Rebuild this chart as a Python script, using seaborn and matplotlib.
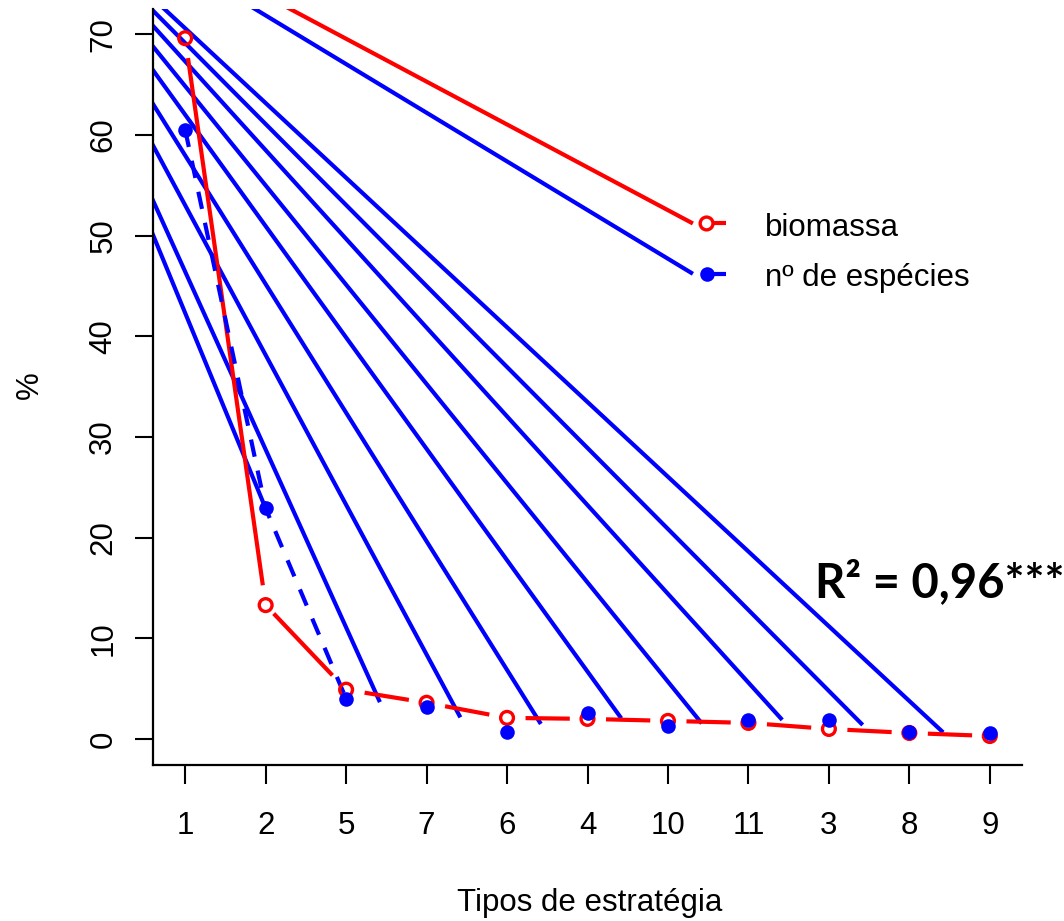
import matplotlib
matplotlib.use("Agg")
import matplotlib.pyplot as plt
import seaborn as sns

# Dados
estrategias = ["1", "2", "5", "7", "6", "4", "10", "11", "3", "8", "9"]
biomassa = [69.6, 13.3, 4.9, 3.6, 2.1, 2.0, 1.8, 1.6, 1.0, 0.6, 0.3]
especies = [60.5, 22.9, 4.0, 3.2, 0.7, 2.6, 1.3, 1.9, 1.9, 0.7, 0.6]
yticks = [0, 10, 20, 30, 40, 50, 60, 70]
legenda = ["biomassa", "nº de espécies"]
r2_texto = "R² = 0,96***"

VERMELHO = "#ff0000"
AZUL = "#0000ff"
LW = 3.0

sns.set_style("white")
plt.rcParams["font.family"] = ["Liberation Sans", "DejaVu Sans"]
plt.rcParams["text.color"] = "black"
plt.rcParams["axes.labelcolor"] = "black"
plt.rcParams["xtick.color"] = "black"
plt.rcParams["ytick.color"] = "black"

pos = list(range(len(estrategias)))

fig = plt.figure(figsize=(10.64, 9.21), dpi=100)
ax = fig.add_axes([153 / 1064, (921 - 765) / 921, (1022 - 153) / 1064, (765 - 9) / 921])
ax.set_xlim(-0.4, 10.4)
ax.set_ylim(-2.58, 72.5)


def trecho(x, y, k, f0, f1):
    xs = [x[k] + (x[k + 1] - x[k]) * f0, x[k] + (x[k + 1] - x[k]) * f1]
    ys = [y[k] + (y[k + 1] - y[k]) * f0, y[k] + (y[k + 1] - y[k]) * f1]
    return xs, ys


# ponto de fuga das linhas "fantasma" (defeito da exportação original)
ox, oy = -2.36, 88.1
fins_x = [pos[1]]
fins_y = [especies[1]]
for k in range(2, 10):
    xs, ys = trecho(pos, especies, k, 0, 0.42)
    fins_x.append(xs[1])
    fins_y.append(ys[1])

# legenda (posição em coordenadas de dados)
leg_x = 6.48
leg_y = [51.2, 46.2]
leg_cor = [VERMELHO, AZUL]
for ly, cor in zip(leg_y, leg_cor):
    fins_x.append(leg_x - 0.17)
    fins_y.append(ly)

cores_fantasma = [AZUL] * 9 + leg_cor
for ex, ey, cor in zip(fins_x, fins_y, cores_fantasma):
    ax.plot([ox, ex], [oy, ey], color=cor, lw=LW, solid_capstyle="butt")

# biomassa: linha vermelha
for k in range(len(pos) - 1):
    if k == 0:
        f0, f1 = 0.035, 0.965
    elif k == 1:
        f0, f1 = 0.10, 0.83
    else:
        f0, f1 = 0.23, 0.78
    xs, ys = trecho(pos, biomassa, k, f0, f1)
    ax.plot(xs, ys, color=VERMELHO, lw=LW, solid_capstyle="butt")

# nº de espécies: linha azul tracejada
ax.plot(pos[:3], especies[:3], color=AZUL, lw=LW, dashes=(4.2, 3.4))

sns.scatterplot(x=pos, y=biomassa, ax=ax, marker="o", s=85,
                facecolors="none", edgecolor=VERMELHO, linewidth=2.4, zorder=5)
sns.scatterplot(x=pos, y=especies, ax=ax, marker="o", s=110,
                color=AZUL, edgecolor=AZUL, linewidth=0, zorder=6)

# itens da legenda
ax.scatter([leg_x], [leg_y[0]], s=85, facecolors="none", edgecolors=VERMELHO,
           linewidths=2.4, zorder=5)
ax.scatter([leg_x], [leg_y[1]], s=110, color=AZUL, linewidths=0, zorder=6)
for ly, cor, txt in zip(leg_y, leg_cor, legenda):
    ax.plot([leg_x + 0.08, leg_x + 0.24], [ly, ly], color=cor, lw=LW,
            solid_capstyle="butt")
    ax.text(7.2, ly - 0.4, txt, fontsize=22.5, ha="left", va="center")

ax.text(7.83, 14.1, r2_texto, fontsize=34, fontweight="bold",
        family=["Lato", "DejaVu Sans"], ha="left", va="baseline", clip_on=False)

# eixos no estilo R
ax.set_xticks(pos)
ax.set_xticklabels(estrategias)
ax.set_yticks(yticks)
ax.set_yticklabels([str(v) for v in yticks], rotation=90, va="center")
ax.tick_params(axis="x", length=14, width=1.5, pad=19, labelsize=22.5, direction="out")
ax.tick_params(axis="y", length=13, width=1.5, pad=12, labelsize=22.5, direction="out")
ax.tick_params(left=True, bottom=True)
for lado in ["top", "right"]:
    ax.spines[lado].set_visible(False)
for lado in ["left", "bottom"]:
    ax.spines[lado].set_linewidth(1.6)
    ax.spines[lado].set_color("black")

ax.set_xlabel("Tipos de estratégia", fontsize=22.5, va="center")
ax.xaxis.set_label_coords(0.503, -0.1825)
ax.set_ylabel("%", fontsize=22.5, va="center", ha="center")
ax.yaxis.set_label_coords((30 - 153) / 869, (765 - 385) / 756)

fig.savefig("out.png", dpi=100)
